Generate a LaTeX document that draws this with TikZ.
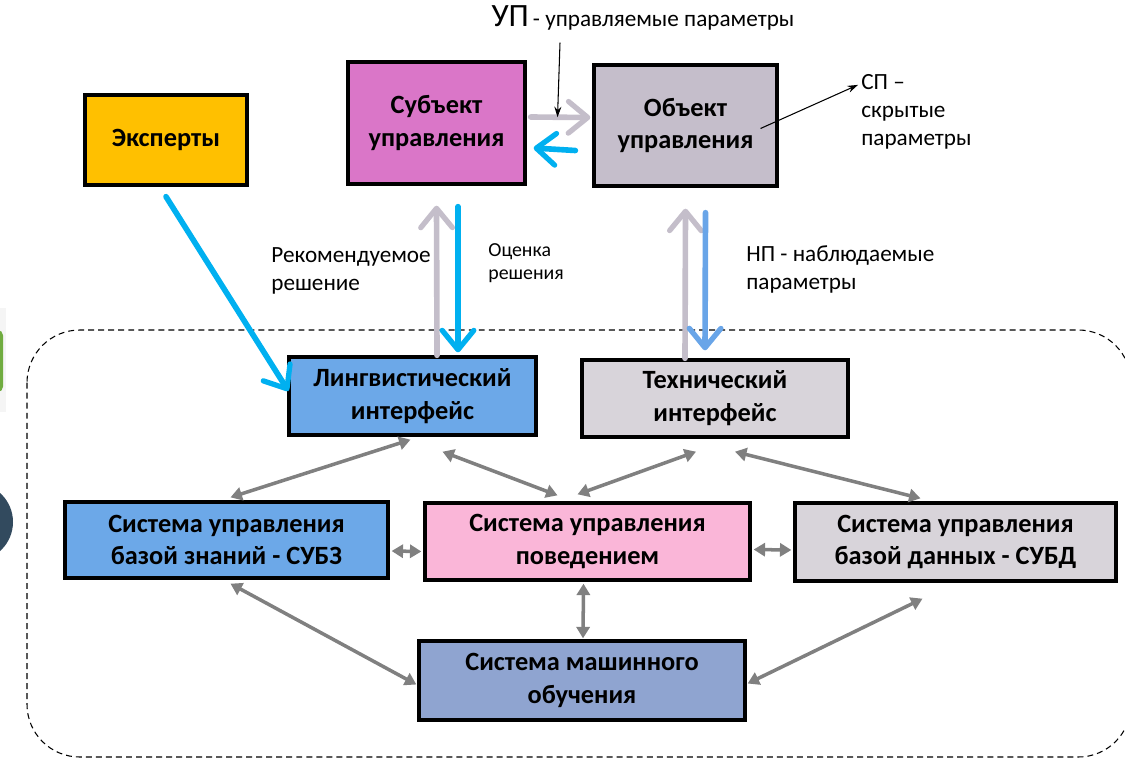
\documentclass[tikz,border=0pt]{standalone}
\usepackage{fontspec}
\setmainfont{Carlito}
\usepackage{tikz}
\usetikzlibrary{shapes.geometric, arrows.meta}

\definecolor{expcol}{RGB}{255,192,0}
\definecolor{subjcol}{RGB}{218,118,200}
\definecolor{objcol}{RGB}{197,190,203}
\definecolor{lincol}{RGB}{108,168,232}
\definecolor{techcol}{RGB}{216,212,218}
\definecolor{behcol}{RGB}{250,182,216}
\definecolor{mlcol}{RGB}{143,164,208}
\definecolor{cyanarr}{RGB}{0,176,240}
\definecolor{bluearr}{RGB}{105,165,232}
\definecolor{grayarr}{RGB}{196,190,202}
\definecolor{linkgray}{RGB}{128,128,128}
\definecolor{edgegreen}{RGB}{112,172,64}
\definecolor{edgeslate}{RGB}{50,74,94}

\tikzstyle{block} = [rectangle, draw=black, line width=1.9pt, text centered,
align=center, font=\bfseries\fontsize{15}{18.7}\selectfont, inner sep=2pt]
\tikzstyle{note} = [align=left, anchor=north west, inner sep=0pt,
font=\fontsize{13.2}{16}\selectfont]
\tikzstyle{flow} = [line width=3.2pt, line cap=round,
-{Straight Barb[length=11pt, width=18pt, line width=3pt, round]}]
\tikzstyle{link} = [line width=2pt, draw=linkgray,
{Triangle[length=6.5pt, width=7.5pt]}-{Triangle[length=6.5pt, width=7.5pt]}]
\tikzstyle{thin} = [line width=0.6pt, -{Stealth[length=6pt, width=4pt]}]

\begin{document}
\begin{tikzpicture}[x=0.02cm, y=-0.02cm]
\useasboundingbox (0,0) rectangle (1125,758);
\clip (0,0) rectangle (1125,758);

% cut-off shapes at the left edge
\fill[black!4] (-5,308) rectangle (6,412);
\fill[edgegreen, rounded corners=3pt] (-12,330) rectangle (3,392);
\fill[edgeslate] (-26,522) circle (39);

% dashed frame
\draw[dashed, dash pattern=on 3.4pt off 2.3pt, line width=0.6pt,
rounded corners=30pt] (27,330) rectangle (1131,757);

% top row
\node(exp)[block, fill=expcol, minimum width=3.24cm, minimum height=1.8cm]
at (166,140) {Эксперты};
\node(subj)[block, fill=subjcol, minimum width=3.54cm, minimum height=2.44cm]
at (436.5,123) {Субъект\\управления};
\node(obj)[block, fill=objcol, minimum width=3.66cm, minimum height=2.42cm]
at (685.5,125.5) {Объект\\управления};

% interfaces
\node(lin)[block, fill=lincol, minimum width=4.94cm, minimum height=1.56cm]
at (412.5,396) {Лингвистический\\интерфейс};
\node(tech)[block, fill=techcol, minimum width=5.32cm, minimum height=1.54cm]
at (715,398.5) {Технический\\интерфейс};

% systems
\node(subz)[block, fill=lincol, minimum width=6.46cm, minimum height=1.52cm]
at (226.5,540) {Система управления\\базой знаний - СУБЗ};
\node(beh)[block, fill=behcol, minimum width=6.5cm, minimum height=1.54cm]
at (587.5,541.5) {Система управления\\поведением};
\node(subd)[block, fill=techcol, minimum width=6.42cm, minimum height=1.56cm]
at (955.5,542) {Система управления\\базой данных - СУБД};
\node(ml)[block, fill=mlcol, minimum width=6.52cm, minimum height=1.58cm]
at (582,680.5) {Система машинного\\обучения};

% labels
\node(up)[inner sep=0pt] at (643,18) {{\fontsize{18.5}{20}\selectfont УП}
{\fontsize{13.2}{15}\selectfont - управляемые параметры}};
\node(sp)[note] at (861,74) {СП –\\скрытые\\параметры};
\node(rec)[note] at (271,247) {Рекомендуемое\\решение};
\node(ocen)[note, font=\fontsize{11.3}{13}\selectfont] at (488,243) {Оценка\\решения};
\node(np)[note] at (746,245) {НП - наблюдаемые\\параметры};

% thick arrows
\draw[flow, cyanarr]([shift={(0,10)}]exp.south) -- ([shift={(1,-5)}]lin.west);
\draw[flow, grayarr]([shift={(4,-6)}]subj.east) -- ([shift={(-2,-8)}]obj.west)
  coordinate[pos=0.45](upTip);
\draw[flow, cyanarr]([shift={(-17,25)}]obj.west) -- ([shift={(7,25)}]subj.east);
\draw[flow, grayarr]([shift={(24.5,0)}]lin.north) -- ([shift={(0,20)}]subj.south);
\draw[flow, cyanarr]([shift={(21.5,21)}]subj.south) -- ([shift={(45.5,-3)}]lin.north);
\draw[flow, grayarr]([shift={(-30,0)}]tech.north) -- ([shift={(0,21)}]obj.south);
\draw[flow, bluearr]([shift={(20,25)}]obj.south) -- ([shift={(-10,-8)}]tech.north);

% thin arrows
\draw[thin]([shift={(-83,12)}]up.south) -- (upTip);
\draw[thin]([shift={(75,3)}]obj.center) -- ([shift={(-3,-27)}]sp.west);

% links between systems
\draw[link]([shift={(-2,3)}]lin.south) -- ([shift={(4,-3)}]subz.north);
\draw[link]([shift={(30,15)}]lin.south) -- ([shift={(-30,-6)}]beh.north);
\draw[link]([shift={(-19,13)}]tech.south) -- ([shift={(-10,-7)}]beh.north);
\draw[link]([shift={(20,13)}]tech.south) -- ([shift={(-35,-3)}]subd.north);
\draw[link]([shift={(2,11)}]subz.east) -- ([shift={(-2,10)}]beh.west);
\draw[link]([shift={(2,8)}]beh.east) -- ([shift={(-2,8)}]subd.west);
\draw[link]([shift={(-4,2)}]beh.south) -- ([shift={(1,-1)}]ml.north);
\draw[link]([shift={(4,4)}]subz.south) -- ([shift={(-1,4)}]ml.west);
\draw[link]([shift={(1,3)}]ml.east) -- ([shift={(-33,16)}]subd.south);

\end{tikzpicture}
\end{document}
